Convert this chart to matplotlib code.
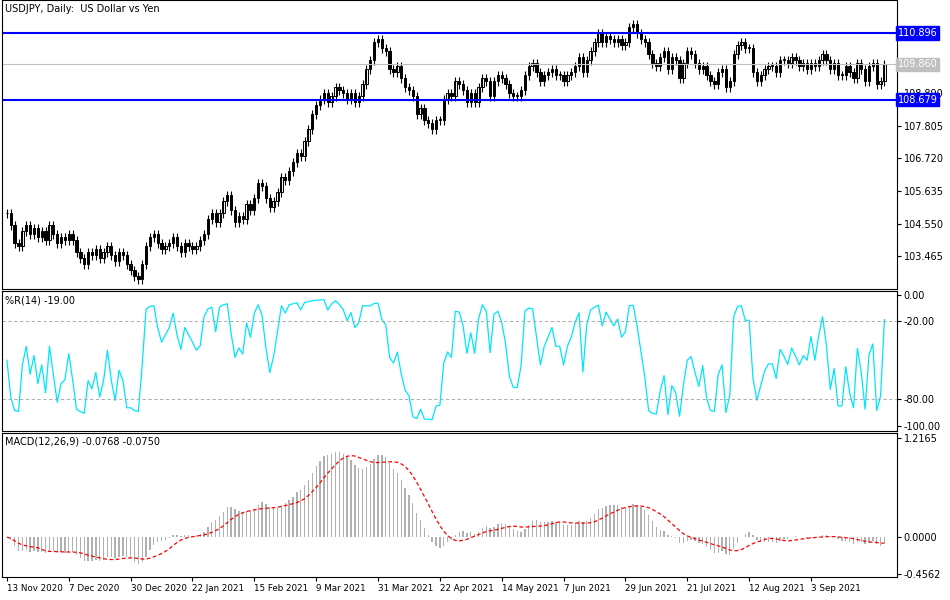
import matplotlib
matplotlib.use("Agg")
import matplotlib.pyplot as plt
import numpy as np
import pandas as pd

# daily closes, 13 Nov 2020 .. late Sep 2021
closes = [
    104.9, 104.5, 103.9, 103.8, 104.3, 104.5, 104.2, 104.4, 104.1, 104.3, 104.0, 104.5, 104.2, 103.9, 104.1, 104.0,
    104.2, 104.0, 103.6, 103.4, 103.2, 103.6, 103.5, 103.7, 103.4, 103.6, 103.8, 103.5, 103.3, 103.6, 103.5, 103.2,
    103.0, 102.8, 102.7, 103.2, 103.8, 104.1, 104.2, 103.9, 103.7, 103.8, 103.9, 104.1, 103.8, 103.6, 103.9, 103.8,
    103.7, 103.8, 104.0, 104.2, 104.7, 104.9, 104.6, 104.9, 105.3, 105.5, 105.0, 104.6, 104.8, 104.7, 105.2, 105.0,
    105.4, 105.9, 105.8, 105.4, 105.1, 105.3, 105.6, 106.1, 106.0, 106.3, 106.6, 106.9, 106.8, 107.3, 107.7, 108.2,
    108.5, 108.7, 108.9, 108.6, 108.8, 109.1, 109.0, 108.9, 108.7, 108.9, 108.6, 108.8, 109.2, 109.7, 110.0, 110.6,
    110.7, 110.4, 110.3, 109.7, 109.6, 109.8, 109.4, 109.1, 109.0, 108.8, 108.2, 108.4, 108.0, 107.9, 107.7, 108.0,
    108.0, 108.7, 108.9, 108.8, 109.3, 109.2, 109.0, 108.6, 108.9, 108.6, 109.1, 109.4, 109.3, 108.8, 109.3, 109.5,
    109.4, 109.2, 108.9, 108.8, 108.8, 109.0, 109.5, 109.8, 109.9, 109.6, 109.3, 109.5, 109.6, 109.7, 109.5, 109.5,
    109.3, 109.5, 109.6, 109.8, 110.1, 109.6, 110.0, 110.3, 110.6, 110.9, 110.6, 110.8, 110.7, 110.6, 110.7, 110.5,
    110.6, 111.1, 111.2, 110.9, 110.7, 110.6, 110.2, 109.9, 109.8, 110.1, 110.3, 109.7, 110.1, 110.0, 109.4, 109.9,
    110.3, 110.2, 109.9, 109.7, 109.8, 109.5, 109.3, 109.2, 109.6, 109.7, 109.1, 109.3, 110.2, 110.5, 110.6, 110.4,
    110.4, 109.6, 109.3, 109.5, 109.7, 109.8, 109.8, 109.6, 110.0, 110.0, 109.9, 110.1, 110.0, 109.8, 109.9, 109.7,
    109.9, 109.8, 110.0, 110.2, 110.0, 109.7, 109.9, 109.5, 109.5, 109.8, 109.6, 109.4, 109.9, 109.7, 109.3, 109.8,
    109.9, 109.2, 109.3, 109.86,
]
date_labels = ["13 Nov 2020", "7 Dec 2020", "30 Dec 2020", "22 Jan 2021", "15 Feb 2021", "9 Mar 2021",
               "31 Mar 2021", "22 Apr 2021", "14 May 2021", "7 Jun 2021", "29 Jun 2021", "21 Jul 2021",
               "12 Aug 2021", "3 Sep 2021"]
resist = 110.896
support = 108.679
last_price = 109.860

c = pd.Series(closes)
o = c.shift(1).fillna(c.iloc[0])
hi = np.maximum(o, c) + 0.15
lo = np.minimum(o, c) - 0.15
n = len(c)
x = np.arange(n)

# indicators
hh = pd.Series(hi).rolling(14, min_periods=1).max()
ll = pd.Series(lo).rolling(14, min_periods=1).min()
wr = -100 * (hh - c) / (hh - ll)
macd = c.ewm(span=12, adjust=False).mean() - c.ewm(span=26, adjust=False).mean()
signal = macd.rolling(9, min_periods=1).mean()

fs = 7
fig = plt.figure(figsize=(9.5, 6), dpi=100)
L, W = 0.002, 0.942
ax1 = fig.add_axes([L, 0.518, W, 0.482])
ax2 = fig.add_axes([L, 0.282, W, 0.233])
ax3 = fig.add_axes([L, 0.038, W, 0.240])
xl = (-1.3, 230.2)

for i in range(n):
    up = c[i] >= o[i]
    ax1.vlines(x[i], lo[i], hi[i], color="black", lw=0.8)
    b0, b1 = min(o[i], c[i]), max(o[i], c[i])
    ax1.bar(x[i], max(b1 - b0, 0.02), bottom=b0, width=0.6,
            color="white" if up else "black", edgecolor="black", lw=0.7)
ax1.axhline(resist, color="#0000ff", lw=1.5)
ax1.axhline(support, color="#0000ff", lw=1.5)
ax1.axhline(last_price, color="#c0c0c0", lw=0.8)
ax1.set_ylim(102.365, 112.0)
ticks = [103.465 + k * 1.085 for k in range(6)]
ax1.set_yticks(ticks)
ax1.set_yticklabels([f"{t:.3f}" for t in ticks])
for val, col in [(resist, "#0000ff"), (support, "#0000ff"), (last_price, "#c0c0c0")]:
    ax1.text(1.001, val, f"{val:.3f}", transform=ax1.get_yaxis_transform(), fontsize=fs,
             va="center", ha="left", color="white", bbox=dict(fc=col, ec=col, pad=1.2))
ax1.text(0.003, 0.985, "USDJPY, Daily:  US Dollar vs Yen", transform=ax1.transAxes, fontsize=fs, va="top")

ax2.plot(x, wr, color="#00e5ff", lw=0.9)
for v in (-20, -80):
    ax2.axhline(v, color="#a0a0a0", lw=0.6, ls=(0, (4, 3)))
ax2.set_ylim(-104, 3)
ax2.set_yticks([0, -20, -80, -100])
ax2.set_yticklabels(["0.00", "-20.00", "-80.00", "-100.00"])
ax2.text(0.003, 0.97, f"%R(14) {wr.iloc[-1]:.2f}", transform=ax2.transAxes, fontsize=fs, va="top")

ax3.bar(x, macd, width=0.35, color="#b0b0b0")
ax3.plot(x, signal, color="red", lw=0.9, ls=(0, (3, 2)))
ax3.set_ylim(-0.493, 1.278)
ax3.set_yticks([1.2165, 0.0, -0.4562])
ax3.set_yticklabels(["1.2165", "0.0000", "-0.4562"])
ax3.text(0.003, 0.98, f"MACD(12,26,9) {macd.iloc[-1]:.4f} {signal.iloc[-1]:.4f}",
         transform=ax3.transAxes, fontsize=fs, va="top")
ax3.set_xticks(np.arange(len(date_labels)) * 16)
ax3.set_xticklabels(date_labels)

for ax in (ax1, ax2, ax3):
    ax.set_xlim(*xl)
    ax.yaxis.tick_right()
    ax.tick_params(axis="y", labelsize=fs, length=3, pad=2)
    ax.tick_params(axis="x", labelsize=6.3, length=3, pad=2)
    for s in ax.spines.values():
        s.set_linewidth(0.8)
    if ax is not ax3:
        ax.set_xticks([])
for lab in ax3.get_xticklabels():
    lab.set_horizontalalignment("left")

fig.savefig("out.png", dpi=100)
